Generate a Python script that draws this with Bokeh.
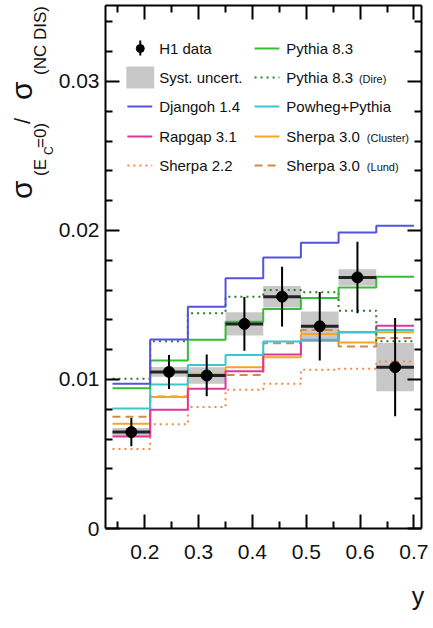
import numpy as np
from bokeh.plotting import figure
from bokeh.layouts import row
from bokeh.models import (Range1d, LinearAxis, FixedTicker, CustomJSTickFormatter, Label, Div)
from bokeh.embed import file_html
from bokeh.resources import INLINE

# ---------------- data ----------------
edges = [0.14, 0.21, 0.28, 0.35, 0.42, 0.49, 0.56, 0.63, 0.70]
h1 = [0.00647, 0.01051, 0.01027, 0.01373, 0.01556, 0.01357, 0.01685, 0.01083]
h1_stat = [0.00095, 0.00114, 0.0014, 0.0018, 0.0020, 0.0023, 0.0024, 0.0033]
h1_syst = [0.00028, 0.00033, 0.00055, 0.00078, 0.00072, 0.00100, 0.00055, 0.00162]

djangoh = [0.00971, 0.01268, 0.01489, 0.01679, 0.01819, 0.01918, 0.01987, 0.02032]
pythia = [0.00942, 0.01127, 0.01266, 0.01388, 0.01473, 0.01547, 0.01618, 0.01690]
pythia_dire = [0.01005, 0.01257, 0.01444, 0.01556, 0.01601, 0.01585, 0.01462, 0.01257]
powheg = [0.00806, 0.00967, 0.01098, 0.01165, 0.01255, 0.01266, 0.01317, 0.01333]
rapgap = [0.00617, 0.00797, 0.00938, 0.01056, 0.01167, 0.01262, 0.01317, 0.01360]
sherpa30_cluster = [0.00703, 0.00882, 0.01038, 0.01083, 0.01150, 0.01306, 0.01248, 0.01317]
sherpa30_lund = [0.00750, 0.00886, 0.01027, 0.01031, 0.01243, 0.01333, 0.01221, 0.01279]
sherpa22 = [0.00533, 0.00699, 0.00815, 0.00931, 0.00971, 0.01065, 0.01072, 0.01121]

x_ticks = [0.2, 0.3, 0.4, 0.5, 0.6, 0.7]
x_minor = [0.15, 0.25, 0.35, 0.45, 0.55, 0.65]
y_ticks = [0.0, 0.01, 0.02, 0.03]
y_minor = [0.002, 0.004, 0.006, 0.008, 0.012, 0.014, 0.016, 0.018,
           0.022, 0.024, 0.026, 0.028, 0.032, 0.034]

# ---------------- layout ----------------
W, H = 433, 628
DIVW = 55
FL, FR, FT, FB = 103, 421, 5, 528     # frame edges in page pixels
X0, X1 = 0.127, 0.714
Y0, Y1 = 0.0, 0.0351
FONT = "Liberation Sans"

def dx(cx):
    return X0 + (cx - FL) / (FR - FL) * (X1 - X0)

def dy(cy):
    return Y1 - (cy - FT) / (FB - FT) * (Y1 - Y0)

p = figure(width=W - DIVW, height=H, x_range=Range1d(X0, X1), y_range=Range1d(Y0, Y1),
           output_backend="svg", toolbar_location=None,
           x_axis_type=None, y_axis_type=None,
           min_border_left=FL - DIVW, min_border_right=W - FR,
           min_border_top=FT, min_border_bottom=H - FB)
p.margin = 0
p.outline_line_color = None
p.xgrid.visible = False
p.ygrid.visible = False
p.background_fill_color = "white"
p.border_fill_color = "white"

def style_axis(ax, labels=True, standoff=6):
    ax.axis_line_width = 2
    ax.axis_line_color = "black"
    ax.major_tick_in = 14
    ax.major_tick_out = 0
    ax.minor_tick_in = 7
    ax.minor_tick_out = 0
    ax.major_tick_line_width = 2
    ax.minor_tick_line_width = 2
    ax.major_tick_line_color = "black"
    ax.minor_tick_line_color = "black"
    ax.major_label_text_font = FONT
    ax.major_label_text_font_size = "21px"
    ax.major_label_text_color = "#111111"
    ax.major_label_standoff = standoff if labels else 0

xfmt = CustomJSTickFormatter(code="return tick.toFixed(1);")
yfmt = CustomJSTickFormatter(code="return Math.abs(tick) < 1e-9 ? '0' : tick.toFixed(2);")

bx = LinearAxis(ticker=FixedTicker(ticks=x_ticks, minor_ticks=x_minor), formatter=xfmt)
style_axis(bx, True, 16)
p.add_layout(bx, "below")
tx = LinearAxis(ticker=FixedTicker(ticks=x_ticks, minor_ticks=x_minor),
                formatter=CustomJSTickFormatter(code="return '';"))
style_axis(tx, False)
p.add_layout(tx, "above")
ly = LinearAxis(ticker=FixedTicker(ticks=y_ticks, minor_ticks=y_minor), formatter=yfmt)
style_axis(ly, True, 6)
p.add_layout(ly, "left")
ry = LinearAxis(ticker=FixedTicker(ticks=y_ticks, minor_ticks=y_minor),
                formatter=CustomJSTickFormatter(code="return '';"))
style_axis(ry, False)
p.add_layout(ry, "right")

# x-axis title "y", right aligned under the axis
bx.axis_label = "y\u00a0"
bx.axis_label_align = "end"
bx.axis_label_text_font = FONT
bx.axis_label_text_font_size = "25px"
bx.axis_label_text_font_style = "normal"
bx.axis_label_text_color = "#111111"
bx.axis_label_standoff = 20

# ---------------- data drawing ----------------
lo = edges[:-1]
hi = edges[1:]
centers = [(a + b) / 2 for a, b in zip(lo, hi)]
h1a = np.array(h1)

p.quad(left=lo, right=hi, bottom=h1a - np.array(h1_syst), top=h1a + np.array(h1_syst),
       fill_color="#c8c8c8", line_color=None)

models = [
    (sherpa22, "#f5894a", "2 4"),
    (sherpa30_lund, "#d48a46", "8 5"),
    (sherpa30_cluster, "#f5a623", "solid"),
    (rapgap, "#e2359b", "solid"),
    (powheg, "#3cc6cf", "solid"),
    (pythia_dire, "#2a7d2a", "2 4"),
    (pythia, "#35bd35", "solid"),
    (djangoh, "#5353e0", "solid"),
]
for vals, col, dash in models:
    p.step(x=edges, y=list(vals) + [vals[-1]], mode="after",
           line_color=col, line_width=2, line_dash=dash)

p.segment(x0=lo, x1=hi, y0=h1, y1=h1, line_color="#222222", line_width=3)
p.segment(x0=centers, x1=centers, y0=h1a - np.array(h1_stat), y1=h1a + np.array(h1_stat),
          line_color="black", line_width=2)
p.scatter(x=centers, y=h1, size=11, marker="circle", fill_color="black", line_color="black")

# ---------------- legend ----------------
rows = [48, 77, 106, 136, 165]
c1a, c1b, c1t = 125, 150, 157
c2a, c2b, c2t = 253, 278, 285

def leg_text(cx, cy, txt, size="15px"):
    p.add_layout(Label(x=dx(cx), y=dy(cy), text=txt, text_font=FONT, text_font_size=size,
                       text_baseline="middle", text_align="left", text_color="#111111"))

def leg_line(xa, xb, cy, col, dash):
    p.line(x=[dx(xa), dx(xb)], y=[dy(cy), dy(cy)], line_color=col, line_width=2, line_dash=dash)

p.segment(x0=[dx(138)], x1=[dx(138)], y0=[dy(rows[0] + 7)], y1=[dy(rows[0] - 8)],
          line_color="black", line_width=2)
p.scatter(x=[dx(138)], y=[dy(rows[0])], size=8, marker="circle", fill_color="black", line_color="black")
leg_text(c1t, rows[0], "H1 data")
p.quad(left=[dx(124)], right=[dx(152)], top=[dy(rows[1] - 11)], bottom=[dy(rows[1] + 11)],
       fill_color="#c8c8c8", line_color=None)
leg_text(c1t, rows[1], "Syst. uncert.")
leg_line(c1a, c1b, rows[2], "#5353e0", "solid")
leg_text(c1t, rows[2], "Djangoh 1.4")
leg_line(c1a, c1b, rows[3], "#e2359b", "solid")
leg_text(c1t, rows[3], "Rapgap 3.1")
leg_line(c1a, c1b, rows[4], "#f5894a", "2 4")
leg_text(c1t, rows[4], "Sherpa 2.2")

leg_line(c2a, c2b, rows[0], "#35bd35", "solid")
leg_text(c2t, rows[0], "Pythia 8.3")
leg_line(c2a, c2b, rows[1], "#2a7d2a", "2 4")
leg_text(c2t, rows[1], "Pythia 8.3")
leg_text(358, rows[1] + 1, "(Dire)", "11px")
leg_line(c2a, c2b, rows[2], "#3cc6cf", "solid")
leg_text(c2t, rows[2], "Powheg+Pythia")
leg_line(c2a, c2b, rows[3], "#f5a623", "solid")
leg_text(c2t, rows[3], "Sherpa 3.0")
leg_text(366, rows[3] + 1, "(Cluster)", "11px")
leg_line(c2a, c2b, rows[4], "#d48a46", "8 5")
leg_text(c2t, rows[4], "Sherpa 3.0")
leg_text(366, rows[4] + 1, "(Lund)", "11px")

# ---------------- y-axis title (rotated HTML pieces) ----------------
# (baseline x, start y, text, font px)
ytitle = [
    (32, 199, "σ", 30),
    (46, 176, "(E", 17),
    (53, 155, "C", 12),
    (46, 148, "=0)", 17),
    (31, 124, "/", 22),
    (32, 100, "σ", 30),
    (46, 75, "(NC DIS)", 17),
]
spans = []
for cxb, cys, txt, f in ytitle:
    left = cxb - 0.8465 * f
    spans.append(
        f'<span style="position:absolute;left:{left:.1f}px;top:{cys}px;'
        f'font-family:\'{FONT}\';font-size:{f}px;line-height:{f}px;white-space:nowrap;'
        f'color:#111111;transform:rotate(-90deg);transform-origin:0 0;">{txt}</span>')
html = (f'<div style="position:relative;width:{DIVW}px;height:{H}px;overflow:visible;">'
        + "".join(spans) + '</div>')
div = Div(text=html, width=DIVW, height=H, margin=0)

layout = row(div, p)
layout.margin = 0
open("out.html", "w").write(file_html(layout, INLINE))
